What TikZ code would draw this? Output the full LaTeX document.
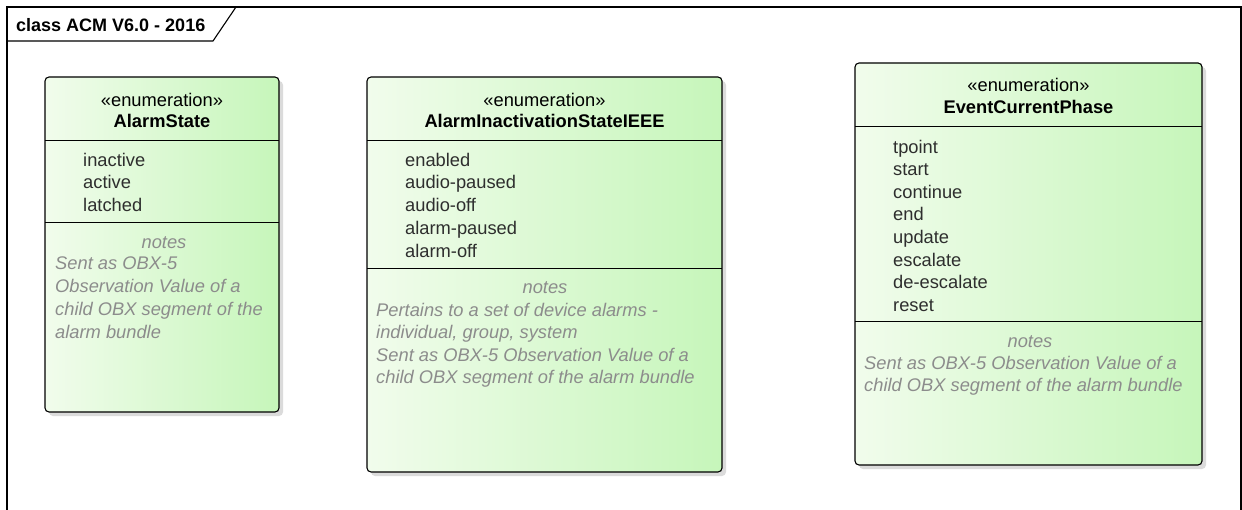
\documentclass[tikz,border=0pt]{standalone}
\usepackage{fontspec}
\setmainfont{Liberation Sans}
\usetikzlibrary{calc}
\definecolor{boxleft}{HTML}{F1FCEC}
\definecolor{boxright}{HTML}{C6F6BA}
\definecolor{notegray}{HTML}{8C8C8C}
\definecolor{attrgray}{HTML}{2E2E2E}
\tikzset{
  classbox/.style={draw=black, line width=1.1pt, rounded corners=4pt, left color=boxleft, right color=boxright},
  boxshadow/.style={fill=black!14, rounded corners=4pt},
  sepline/.style={draw=black, line width=1pt},
  stereotxt/.style={anchor=base, inner sep=0pt, yshift=-1.5pt, font=\fontsize{18.3}{21}\selectfont},
  nametxt/.style={anchor=base, inner sep=0pt, font=\fontsize{18.3}{21}\selectfont\bfseries},
  attrtxt/.style={anchor=mid west, inner sep=0pt, yshift=-3.5pt, text=attrgray, font=\fontsize{18.3}{21}\selectfont},
  notehead/.style={anchor=mid, inner sep=0pt, yshift=-3.5pt, text=notegray, font=\fontsize{18.3}{21}\selectfont\itshape},
  notetxt/.style={anchor=mid west, inner sep=0pt, yshift=-3.5pt, text=notegray, font=\fontsize{18.3}{21}\selectfont\itshape}
}
\begin{document}
\begin{tikzpicture}[x=1pt, y=-1pt]
	\useasboundingbox (0,0) rectangle (1242,510);
	\fill[white] (0,0) rectangle (1242,510);

	\draw[line width=1.4pt] (7,525) -- (7,7) -- (1241,7) -- (1241,525);
	\draw[line width=1.1pt] (7,41) -- (213,41) -- (236,7);
	\node[anchor=base west, inner sep=0pt, font=\fontsize{18}{21}\selectfont\bfseries] (frame-title) at (16,31.5) {class ACM V6.0 - 2016};

	\coordinate (A1) at (45,77);
	\coordinate (A2) at (279,412);
	\fill[boxshadow] ($(A1)+(4,4)$) rectangle ($(A2)+(4,4)$);
	\draw[classbox] (A1) rectangle (A2);
	\draw[sepline] (45,141) -- (279,141);
	\draw[sepline] (45,223) -- (279,223);
	\node[stereotxt] (as-stereo) at (162,105.5) {«enumeration»};
	\node[nametxt] (as-name) at (162,128) {AlarmState};
	\foreach \lit [count=\i from 0] in {inactive, active, latched}
		\node[attrtxt] (as-lit-\i) at (83,160+22.7*\i) {\lit};
	\node[notehead] (as-notes) at (164,242) {notes};
	\node[notetxt] (as-note-1) at (55,263.5) {Sent as OBX-5};
	\node[notetxt] (as-note-2) at (55,286.5) {Observation Value of a};
	\node[notetxt] (as-note-3) at (55,309.5) {child OBX segment of the};
	\node[notetxt] (as-note-4) at (55,332) {alarm bundle};

	\coordinate (B1) at (367,77);
	\coordinate (B2) at (722,472);
	\fill[boxshadow] ($(B1)+(4,4)$) rectangle ($(B2)+(4,4)$);
	\draw[classbox] (B1) rectangle (B2);
	\draw[sepline] (367,141) -- (722,141);
	\draw[sepline] (367,269) -- (722,269);
	\node[stereotxt] (ais-stereo) at (544.5,105) {«enumeration»};
	\node[nametxt] (ais-name) at (544.5,128) {AlarmInactivationStateIEEE};
	\foreach \lit [count=\i from 0] in {enabled, audio-paused, audio-off, alarm-paused, alarm-off}
		\node[attrtxt] (ais-lit-\i) at (405,160+22.8*\i) {\lit};
	\node[notehead] (ais-notes) at (545,287) {notes};
	\node[notetxt] (ais-note-1) at (376,310) {Pertains to a set of device alarms -};
	\node[notetxt] (ais-note-2) at (376,332.5) {individual, group, system};
	\node[notetxt] (ais-note-3) at (376,355) {Sent as OBX-5 Observation Value of a};
	\node[notetxt] (ais-note-4) at (376,377.5) {child OBX segment of the alarm bundle};

	\coordinate (C1) at (855,63);
	\coordinate (C2) at (1202,465);
	\fill[boxshadow] ($(C1)+(4,4)$) rectangle ($(C2)+(4,4)$);
	\draw[classbox] (C1) rectangle (C2);
	\draw[sepline] (855,127) -- (1202,127);
	\draw[sepline] (855,322) -- (1202,322);
	\node[stereotxt] (ecp-stereo) at (1028.5,90.5) {«enumeration»};
	\node[nametxt] (ecp-name) at (1028.5,114) {EventCurrentPhase};
	\foreach \lit [count=\i from 0] in {tpoint, start, continue, end, update, escalate, de-escalate, reset}
		\node[attrtxt] (ecp-lit-\i) at (893,147+22.6*\i) {\lit};
	\node[notehead] (ecp-notes) at (1030,341) {notes};
	\node[notetxt] (ecp-note-1) at (864,363.5) {Sent as OBX-5 Observation Value of a};
	\node[notetxt] (ecp-note-2) at (864,385.5) {child OBX segment of the alarm bundle};
\end{tikzpicture}
\end{document}
